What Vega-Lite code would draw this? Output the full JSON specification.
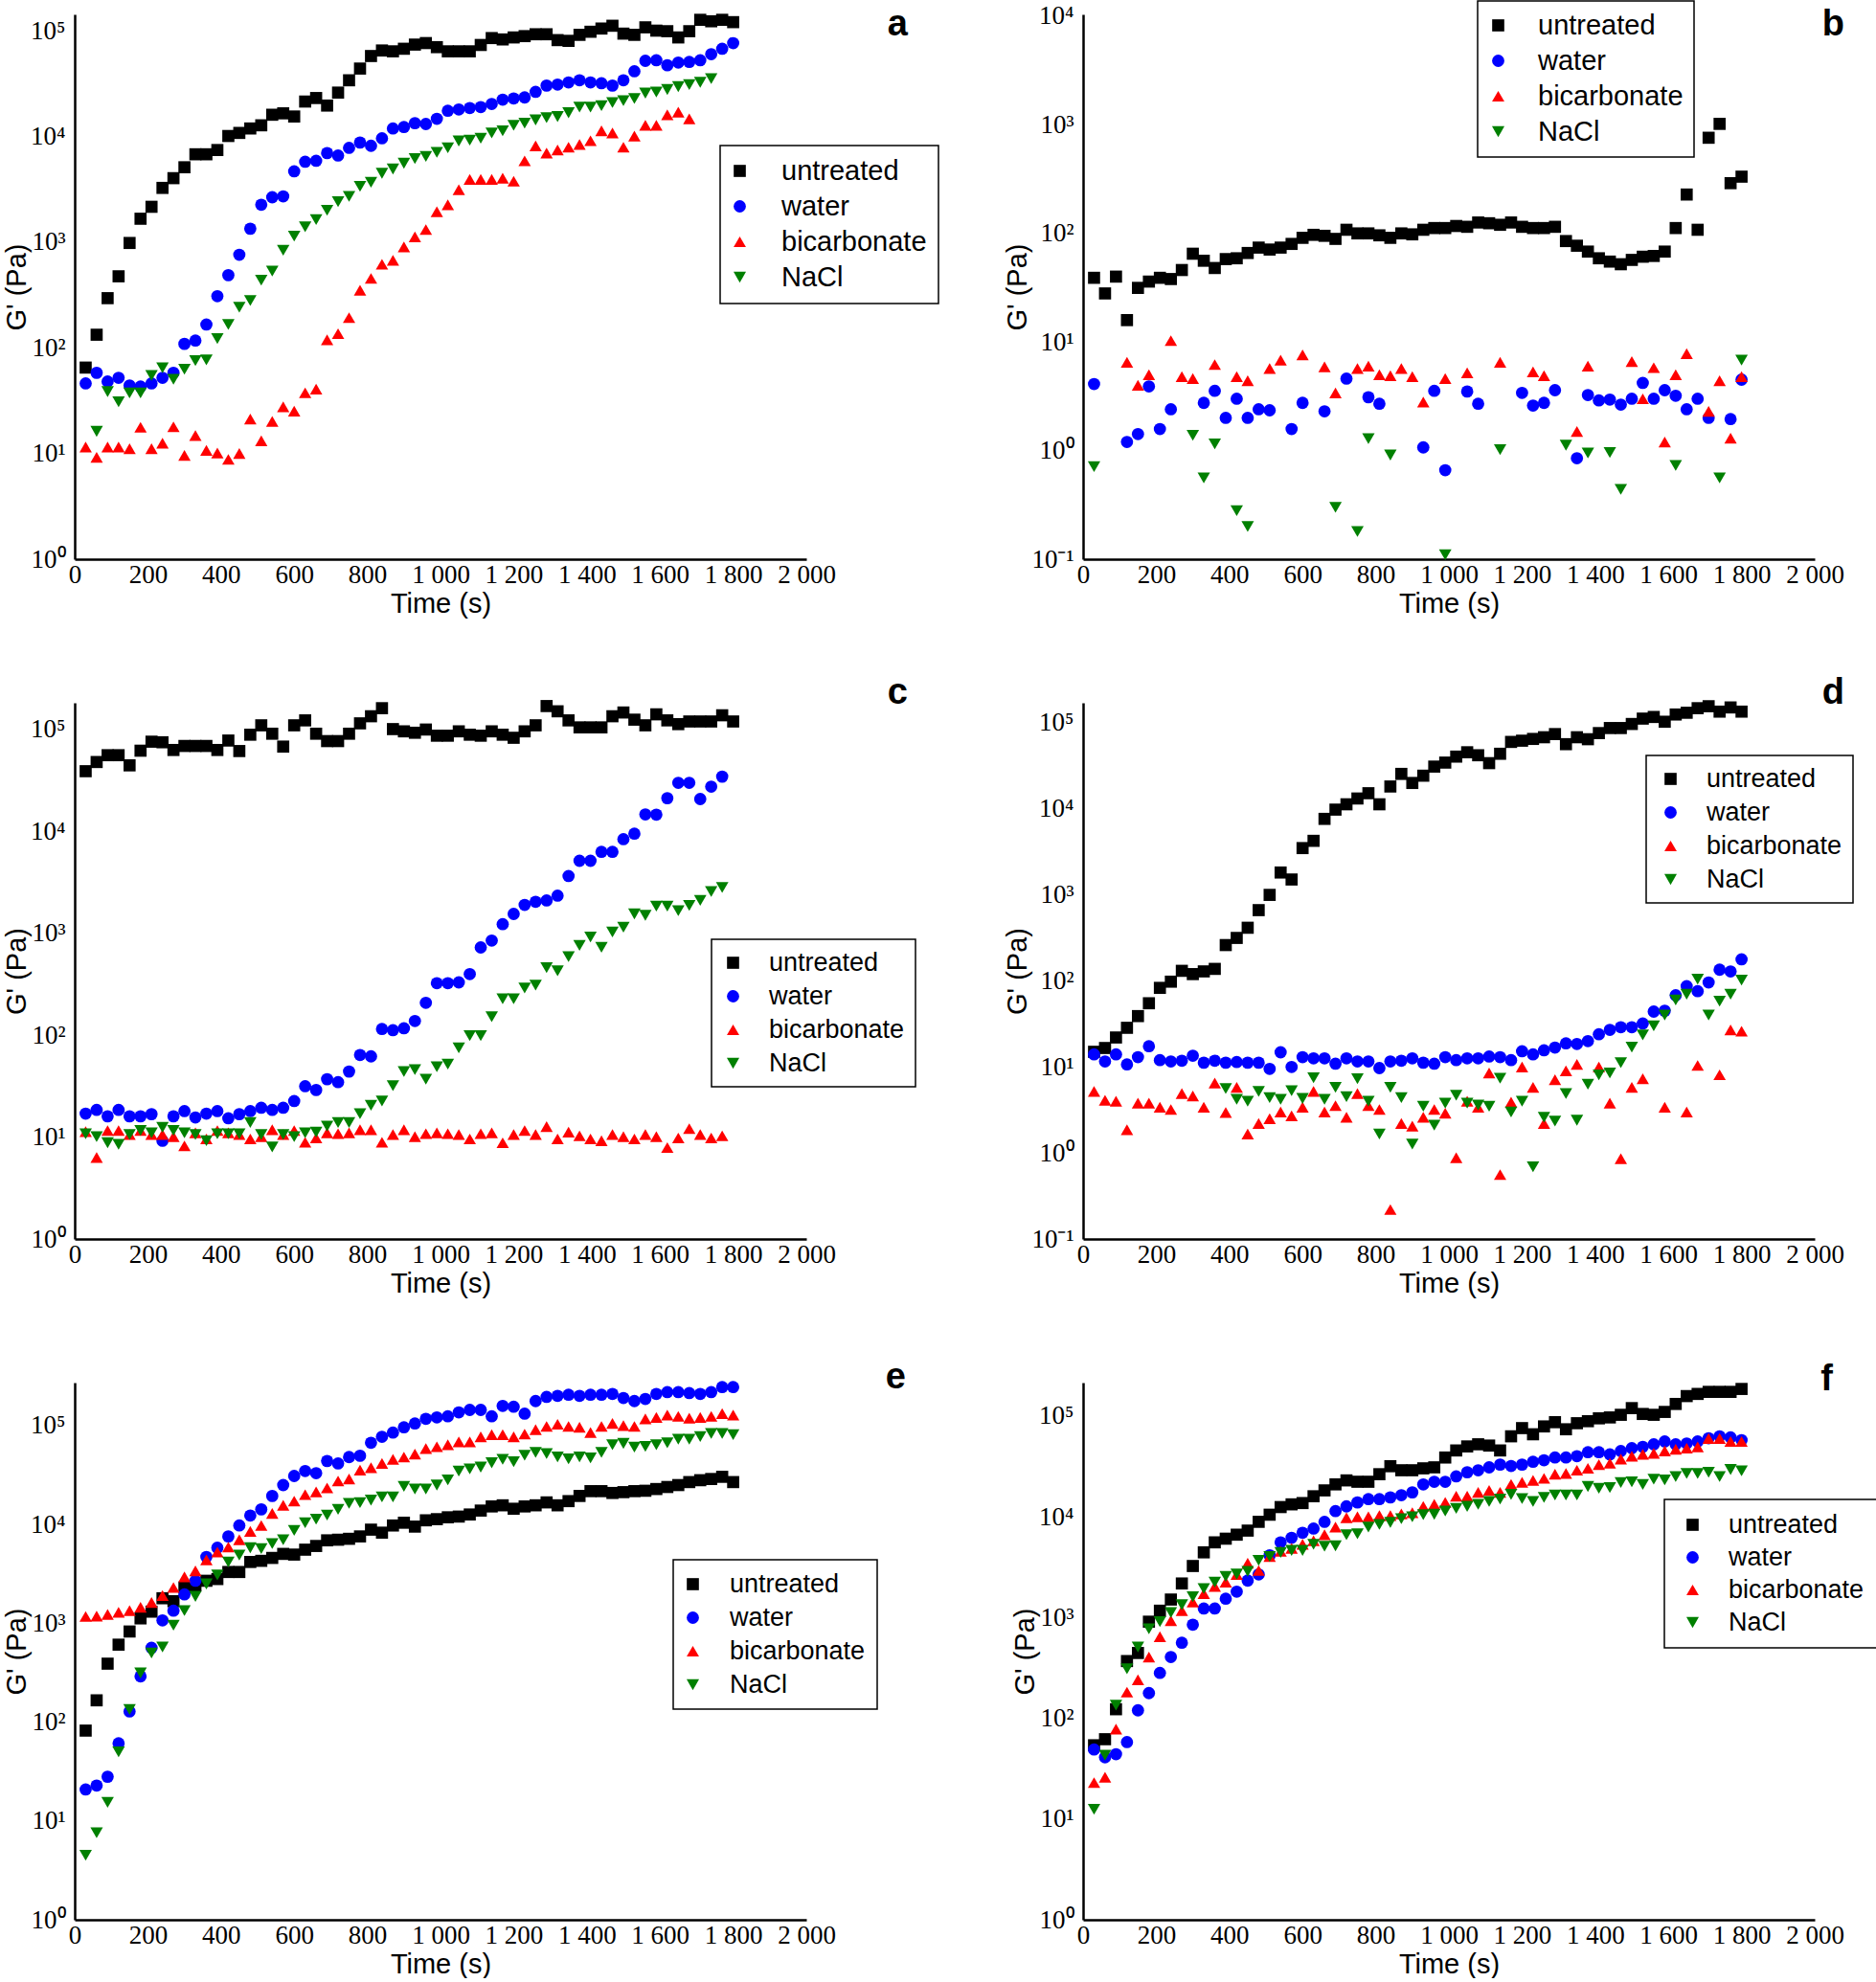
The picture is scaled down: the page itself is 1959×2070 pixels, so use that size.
{
"$schema":"https://vega.github.io/schema/vega-lite/v6.json",
"background":"white",
"padding":{"left":3,"top":0,"right":0,"bottom":0},
"columns":2,
"bounds":"flush",
"align":"each",
"spacing":{"row":150,"column":289},
"resolve":{"scale":{"x":"independent","y":"independent","color":"independent","shape":"independent","size":"independent"},"legend":{"color":"independent","shape":"independent"},"axis":{"x":"independent","y":"independent"}},
"config":{
 "font":"Liberation Sans",
 "view":{"stroke":null},
 "axis":{"domainColor":"#000","domainWidth":2.5,"ticks":false,"grid":false,"labelFont":"Liberation Sans Narrow","labelFontSize":27,"labelColor":"#000","titleFont":"Liberation Sans","titleFontSize":29,"titleFontWeight":"normal","titleColor":"#000","labelOverlap":false,"labelBound":false,"labelFlush":false},
 "axisX":{"labelPadding":3,"titlePadding":3},
 "axisY":{"labelPadding":10,"titlePadding":-1},
 "legend":{"orient":"none","strokeColor":"#000","strokeWidth":1.5,"fillColor":"#fff","labelFont":"Liberation Sans","labelColor":"#000","symbolSize":170,"symbolStrokeWidth":0},
 "title":{"anchor":"end","frame":"group","fontSize":38,"fontWeight":"bold","font":"Liberation Sans","color":"#000","baseline":"alphabetic","offset":0}
},
"concat":[
{"data":{"name":"a"},"width":764,"height":569,"title":{"text":"a","dx":106,"dy":35},
 "mark":{"type":"point","filled":true,"opacity":1,"strokeWidth":0},
 "encoding":{
  "x":{"field":"t","type":"quantitative","title":"Time (s)","scale":{"domain":[0,2000],"nice":false,"zero":false},"axis":{"values":[0,200,400,600,800,1000,1200,1400,1600,1800,2000],"labelExpr":"replace(format(datum.value, ','), ',', ' ')"}},
  "y":{"field":"g","type":"quantitative","title":"G' (Pa)","scale":{"type":"log","domain":[1,143000],"nice":false},"axis":{"values":[1,10,100,1000,10000,100000],"labelExpr":"'10' + (datum.value < 0.5 ? '⁻¹' : ['⁰','¹','²','³','⁴','⁵'][round(log(datum.value)/LN10)])"}},
  "size":{"field":"s","type":"nominal","scale":{"domain":["untreated","water","bicarbonate","NaCl"],"range":[160,170,230,230]},"legend":null},
  "color":{"field":"s","type":"nominal","scale":{"domain":["untreated","water","bicarbonate","NaCl"],"range":["#000000","#0000ff","#ff0000","#008000"]},"legend":{"title":null,"legendX":674,"legendY":137,"labelFontSize":29,"padding":12,"rowPadding":7,"symbolOffset":-6,"labelOffset":29}},
  "shape":{"field":"s","type":"nominal","scale":{"domain":["untreated","water","bicarbonate","NaCl"],"range":["square","circle","triangle-up","triangle-down"]},"legend":{"title":null,"legendX":674,"legendY":137,"labelFontSize":29,"padding":12,"rowPadding":7,"symbolOffset":-6,"labelOffset":29}}
 }},
{"data":{"name":"b"},"width":764,"height":569,"title":{"text":"b","dx":31,"dy":49},
 "mark":{"type":"point","filled":true,"opacity":1,"strokeWidth":0},
 "encoding":{
  "x":{"field":"t","type":"quantitative","title":"Time (s)","scale":{"domain":[0,2000],"nice":false,"zero":false},"axis":{"values":[0,200,400,600,800,1000,1200,1400,1600,1800,2000],"labelExpr":"replace(format(datum.value, ','), ',', ' ')"}},
  "y":{"field":"g","type":"quantitative","title":"G' (Pa)","scale":{"type":"log","domain":[0.1,10400],"nice":false},"axis":{"values":[0.1,1,10,100,1000,10000],"labelExpr":"'10' + (datum.value < 0.5 ? '⁻¹' : ['⁰','¹','²','³','⁴','⁵'][round(log(datum.value)/LN10)])"}},
  "size":{"field":"s","type":"nominal","scale":{"domain":["untreated","water","bicarbonate","NaCl"],"range":[160,170,230,230]},"legend":null},
  "color":{"field":"s","type":"nominal","scale":{"domain":["untreated","water","bicarbonate","NaCl"],"range":["#000000","#0000ff","#ff0000","#008000"]},"legend":{"title":null,"legendX":412,"legendY":-14,"labelFontSize":29,"padding":11,"rowPadding":7,"symbolOffset":-4,"labelOffset":27}},
  "shape":{"field":"s","type":"nominal","scale":{"domain":["untreated","water","bicarbonate","NaCl"],"range":["square","circle","triangle-up","triangle-down"]},"legend":{"title":null,"legendX":412,"legendY":-14,"labelFontSize":29,"padding":11,"rowPadding":7,"symbolOffset":-4,"labelOffset":27}}
 }},
{"data":{"name":"c"},"width":764,"height":560,"title":{"text":"c","dx":106,"dy":16},
 "mark":{"type":"point","filled":true,"opacity":1,"strokeWidth":0},
 "encoding":{
  "x":{"field":"t","type":"quantitative","title":"Time (s)","scale":{"domain":[0,2000],"nice":false,"zero":false},"axis":{"values":[0,200,400,600,800,1000,1200,1400,1600,1800,2000],"labelExpr":"replace(format(datum.value, ','), ',', ' ')"}},
  "y":{"field":"g","type":"quantitative","title":"G' (Pa)","scale":{"type":"log","domain":[1,183000],"nice":false},"axis":{"values":[1,10,100,1000,10000,100000],"labelExpr":"'10' + (datum.value < 0.5 ? '⁻¹' : ['⁰','¹','²','³','⁴','⁵'][round(log(datum.value)/LN10)])"}},
  "size":{"field":"s","type":"nominal","scale":{"domain":["untreated","water","bicarbonate","NaCl"],"range":[160,170,230,230]},"legend":null},
  "color":{"field":"s","type":"nominal","scale":{"domain":["untreated","water","bicarbonate","NaCl"],"range":["#000000","#0000ff","#ff0000","#008000"]},"legend":{"title":null,"legendX":665,"legendY":247,"labelFontSize":27,"padding":11,"rowPadding":7,"symbolOffset":-2,"labelOffset":24}},
  "shape":{"field":"s","type":"nominal","scale":{"domain":["untreated","water","bicarbonate","NaCl"],"range":["square","circle","triangle-up","triangle-down"]},"legend":{"title":null,"legendX":665,"legendY":247,"labelFontSize":27,"padding":11,"rowPadding":7,"symbolOffset":-2,"labelOffset":24}}
 }},
{"data":{"name":"d"},"width":764,"height":560,"title":{"text":"d","dx":31,"dy":16},
 "mark":{"type":"point","filled":true,"opacity":1,"strokeWidth":0},
 "encoding":{
  "x":{"field":"t","type":"quantitative","title":"Time (s)","scale":{"domain":[0,2000],"nice":false,"zero":false},"axis":{"values":[0,200,400,600,800,1000,1200,1400,1600,1800,2000],"labelExpr":"replace(format(datum.value, ','), ',', ' ')"}},
  "y":{"field":"g","type":"quantitative","title":"G' (Pa)","scale":{"type":"log","domain":[0.1,171000],"nice":false},"axis":{"values":[0.1,1,10,100,1000,10000,100000],"labelExpr":"'10' + (datum.value < 0.5 ? '⁻¹' : ['⁰','¹','²','³','⁴','⁵'][round(log(datum.value)/LN10)])"}},
  "size":{"field":"s","type":"nominal","scale":{"domain":["untreated","water","bicarbonate","NaCl"],"range":[160,170,230,230]},"legend":null},
  "color":{"field":"s","type":"nominal","scale":{"domain":["untreated","water","bicarbonate","NaCl"],"range":["#000000","#0000ff","#ff0000","#008000"]},"legend":{"title":null,"legendX":588,"legendY":55,"labelFontSize":27,"padding":11,"rowPadding":7,"symbolOffset":1,"labelOffset":24}},
  "shape":{"field":"s","type":"nominal","scale":{"domain":["untreated","water","bicarbonate","NaCl"],"range":["square","circle","triangle-up","triangle-down"]},"legend":{"title":null,"legendX":588,"legendY":55,"labelFontSize":27,"padding":11,"rowPadding":7,"symbolOffset":1,"labelOffset":24}}
 }},
{"data":{"name":"e"},"width":764,"height":561,"title":{"text":"e","dx":104,"dy":20},
 "mark":{"type":"point","filled":true,"opacity":1,"strokeWidth":0},
 "encoding":{
  "x":{"field":"t","type":"quantitative","title":"Time (s)","scale":{"domain":[0,2000],"nice":false,"zero":false},"axis":{"values":[0,200,400,600,800,1000,1200,1400,1600,1800,2000],"labelExpr":"replace(format(datum.value, ','), ',', ' ')"}},
  "y":{"field":"g","type":"quantitative","title":"G' (Pa)","scale":{"type":"log","domain":[1,272000],"nice":false},"axis":{"values":[1,10,100,1000,10000,100000],"labelExpr":"'10' + (datum.value < 0.5 ? '⁻¹' : ['⁰','¹','²','³','⁴','⁵'][round(log(datum.value)/LN10)])"}},
  "size":{"field":"s","type":"nominal","scale":{"domain":["untreated","water","bicarbonate","NaCl"],"range":[160,170,230,230]},"legend":null},
  "color":{"field":"s","type":"nominal","scale":{"domain":["untreated","water","bicarbonate","NaCl"],"range":["#000000","#0000ff","#ff0000","#008000"]},"legend":{"title":null,"legendX":625,"legendY":185,"labelFontSize":27,"padding":12,"rowPadding":7,"symbolOffset":-5,"labelOffset":25}},
  "shape":{"field":"s","type":"nominal","scale":{"domain":["untreated","water","bicarbonate","NaCl"],"range":["square","circle","triangle-up","triangle-down"]},"legend":{"title":null,"legendX":625,"legendY":185,"labelFontSize":27,"padding":12,"rowPadding":7,"symbolOffset":-5,"labelOffset":25}}
 }},
{"data":{"name":"f"},"width":764,"height":561,"title":{"text":"f","dx":19,"dy":20},
 "mark":{"type":"point","filled":true,"opacity":1,"strokeWidth":0},
 "encoding":{
  "x":{"field":"t","type":"quantitative","title":"Time (s)","scale":{"domain":[0,2000],"nice":false,"zero":false},"axis":{"values":[0,200,400,600,800,1000,1200,1400,1600,1800,2000],"labelExpr":"replace(format(datum.value, ','), ',', ' ')"}},
  "y":{"field":"g","type":"quantitative","title":"G' (Pa)","scale":{"type":"log","domain":[1,215000],"nice":false},"axis":{"values":[1,10,100,1000,10000,100000],"labelExpr":"'10' + (datum.value < 0.5 ? '⁻¹' : ['⁰','¹','²','³','⁴','⁵'][round(log(datum.value)/LN10)])"}},
  "size":{"field":"s","type":"nominal","scale":{"domain":["untreated","water","bicarbonate","NaCl"],"range":[160,170,230,230]},"legend":null},
  "color":{"field":"s","type":"nominal","scale":{"domain":["untreated","water","bicarbonate","NaCl"],"range":["#000000","#0000ff","#ff0000","#008000"]},"legend":{"title":null,"legendX":607,"legendY":122,"labelFontSize":27,"padding":13,"rowPadding":6,"symbolOffset":3,"labelOffset":24}},
  "shape":{"field":"s","type":"nominal","scale":{"domain":["untreated","water","bicarbonate","NaCl"],"range":["square","circle","triangle-up","triangle-down"]},"legend":{"title":null,"legendX":607,"legendY":122,"labelFontSize":27,"padding":13,"rowPadding":6,"symbolOffset":3,"labelOffset":24}}
 }}
],
"datasets":{
"a":[
{"s":"untreated","t":30,"g":65},{"s":"untreated","t":60,"g":133},{"s":"untreated","t":90,"g":295},{"s":"untreated","t":120,"g":475},{"s":"untreated","t":150,"g":982},{"s":"untreated","t":180,"g":1665},{"s":"untreated","t":210,"g":2160},{"s":"untreated","t":240,"g":3260},{"s":"untreated","t":270,"g":4030},{"s":"untreated","t":300,"g":5110},{"s":"untreated","t":330,"g":6780},{"s":"untreated","t":360,"g":6780},{"s":"untreated","t":390,"g":7440},{"s":"untreated","t":420,"g":10100},{"s":"untreated","t":450,"g":10800},{"s":"untreated","t":480,"g":11900},{"s":"untreated","t":510,"g":12750},{"s":"untreated","t":540,"g":16050},{"s":"untreated","t":570,"g":16550},{"s":"untreated","t":600,"g":15450},{"s":"untreated","t":630,"g":21400},{"s":"untreated","t":660,"g":23100},{"s":"untreated","t":690,"g":19600},{"s":"untreated","t":720,"g":26000},{"s":"untreated","t":750,"g":34000},{"s":"untreated","t":780,"g":43900},{"s":"untreated","t":810,"g":57700},{"s":"untreated","t":840,"g":65100},{"s":"untreated","t":870,"g":63900},{"s":"untreated","t":900,"g":67600},{"s":"untreated","t":930,"g":74000},{"s":"untreated","t":960,"g":76500},{"s":"untreated","t":990,"g":70000},{"s":"untreated","t":1020,"g":63900},{"s":"untreated","t":1050,"g":63900},{"s":"untreated","t":1080,"g":63900},{"s":"untreated","t":1110,"g":73400},{"s":"untreated","t":1140,"g":85300},{"s":"untreated","t":1170,"g":82800},{"s":"untreated","t":1200,"g":86500},{"s":"untreated","t":1230,"g":89000},{"s":"untreated","t":1260,"g":92700},{"s":"untreated","t":1290,"g":92700},{"s":"untreated","t":1320,"g":81600},{"s":"untreated","t":1350,"g":80300},{"s":"untreated","t":1380,"g":91500},{"s":"untreated","t":1410,"g":97900},{"s":"untreated","t":1440,"g":105000},{"s":"untreated","t":1470,"g":111600},{"s":"untreated","t":1500,"g":94000},{"s":"untreated","t":1530,"g":91500},{"s":"untreated","t":1560,"g":107800},{"s":"untreated","t":1590,"g":100300},{"s":"untreated","t":1620,"g":99100},{"s":"untreated","t":1650,"g":86500},{"s":"untreated","t":1680,"g":99100},{"s":"untreated","t":1710,"g":127000},{"s":"untreated","t":1740,"g":123000},{"s":"untreated","t":1770,"g":127000},{"s":"untreated","t":1800,"g":120700},
{"s":"water","t":30,"g":46},{"s":"water","t":60,"g":58},{"s":"water","t":90,"g":48},{"s":"water","t":120,"g":52},{"s":"water","t":150,"g":44},{"s":"water","t":180,"g":43},{"s":"water","t":210,"g":46},{"s":"water","t":240,"g":52},{"s":"water","t":270,"g":58},{"s":"water","t":300,"g":109},{"s":"water","t":330,"g":117},{"s":"water","t":360,"g":166},{"s":"water","t":390,"g":308},{"s":"water","t":420,"g":487},{"s":"water","t":450,"g":760},{"s":"water","t":480,"g":1340},{"s":"water","t":510,"g":2260},{"s":"water","t":540,"g":2660},{"s":"water","t":570,"g":2710},{"s":"water","t":600,"g":4680},{"s":"water","t":630,"g":5760},{"s":"water","t":660,"g":5880},{"s":"water","t":690,"g":6960},{"s":"water","t":720,"g":6600},{"s":"water","t":750,"g":7800},{"s":"water","t":780,"g":8760},{"s":"water","t":810,"g":8160},{"s":"water","t":840,"g":9610},{"s":"water","t":870,"g":11900},{"s":"water","t":900,"g":12270},{"s":"water","t":930,"g":13360},{"s":"water","t":960,"g":13120},{"s":"water","t":990,"g":14700},{"s":"water","t":1020,"g":17500},{"s":"water","t":1050,"g":18000},{"s":"water","t":1080,"g":18600},{"s":"water","t":1110,"g":18960},{"s":"water","t":1140,"g":20300},{"s":"water","t":1170,"g":22300},{"s":"water","t":1200,"g":22900},{"s":"water","t":1230,"g":23400},{"s":"water","t":1260,"g":26400},{"s":"water","t":1290,"g":30300},{"s":"water","t":1320,"g":31000},{"s":"water","t":1350,"g":32500},{"s":"water","t":1380,"g":34000},{"s":"water","t":1410,"g":32500},{"s":"water","t":1440,"g":31900},{"s":"water","t":1470,"g":30300},{"s":"water","t":1500,"g":34000},{"s":"water","t":1530,"g":41400},{"s":"water","t":1560,"g":52000},{"s":"water","t":1590,"g":52600},{"s":"water","t":1620,"g":47200},{"s":"water","t":1650,"g":50100},{"s":"water","t":1680,"g":50700},{"s":"water","t":1710,"g":52600},{"s":"water","t":1740,"g":60100},{"s":"water","t":1770,"g":67600},{"s":"water","t":1800,"g":76400},
{"s":"bicarbonate","t":30,"g":11.5},{"s":"bicarbonate","t":60,"g":9.2},{"s":"bicarbonate","t":90,"g":11.5},{"s":"bicarbonate","t":120,"g":11.5},{"s":"bicarbonate","t":150,"g":11.1},{"s":"bicarbonate","t":180,"g":17.7},{"s":"bicarbonate","t":210,"g":11.1},{"s":"bicarbonate","t":240,"g":12.5},{"s":"bicarbonate","t":270,"g":17.9},{"s":"bicarbonate","t":300,"g":9.6},{"s":"bicarbonate","t":330,"g":14.8},{"s":"bicarbonate","t":360,"g":10.7},{"s":"bicarbonate","t":390,"g":10.1},{"s":"bicarbonate","t":420,"g":8.8},{"s":"bicarbonate","t":450,"g":10},{"s":"bicarbonate","t":480,"g":21.2},{"s":"bicarbonate","t":510,"g":13.2},{"s":"bicarbonate","t":540,"g":20.1},{"s":"bicarbonate","t":570,"g":27.7},{"s":"bicarbonate","t":600,"g":25.2},{"s":"bicarbonate","t":630,"g":37.5},{"s":"bicarbonate","t":660,"g":40.7},{"s":"bicarbonate","t":690,"g":119},{"s":"bicarbonate","t":720,"g":136},{"s":"bicarbonate","t":750,"g":193},{"s":"bicarbonate","t":780,"g":350},{"s":"bicarbonate","t":810,"g":454},{"s":"bicarbonate","t":840,"g":617},{"s":"bicarbonate","t":870,"g":673},{"s":"bicarbonate","t":900,"g":902},{"s":"bicarbonate","t":930,"g":1120},{"s":"bicarbonate","t":960,"g":1315},{"s":"bicarbonate","t":990,"g":1940},{"s":"bicarbonate","t":1020,"g":2260},{"s":"bicarbonate","t":1050,"g":3130},{"s":"bicarbonate","t":1080,"g":3920},{"s":"bicarbonate","t":1110,"g":3920},{"s":"bicarbonate","t":1140,"g":3920},{"s":"bicarbonate","t":1170,"g":4020},{"s":"bicarbonate","t":1200,"g":3770},{"s":"bicarbonate","t":1230,"g":5880},{"s":"bicarbonate","t":1260,"g":8150},{"s":"bicarbonate","t":1290,"g":6960},{"s":"bicarbonate","t":1320,"g":7440},{"s":"bicarbonate","t":1350,"g":7910},{"s":"bicarbonate","t":1380,"g":8390},{"s":"bicarbonate","t":1410,"g":9110},{"s":"bicarbonate","t":1440,"g":11300},{"s":"bicarbonate","t":1470,"g":10800},{"s":"bicarbonate","t":1500,"g":7910},{"s":"bicarbonate","t":1530,"g":10100},{"s":"bicarbonate","t":1560,"g":12750},{"s":"bicarbonate","t":1590,"g":12750},{"s":"bicarbonate","t":1620,"g":16050},{"s":"bicarbonate","t":1650,"g":17000},{"s":"bicarbonate","t":1680,"g":14700},
{"s":"NaCl","t":60,"g":16.2},{"s":"NaCl","t":90,"g":38.5},{"s":"NaCl","t":120,"g":30.9},{"s":"NaCl","t":150,"g":37.4},{"s":"NaCl","t":180,"g":37.4},{"s":"NaCl","t":210,"g":54.8},{"s":"NaCl","t":240,"g":64.8},{"s":"NaCl","t":270,"g":50.4},{"s":"NaCl","t":300,"g":62.6},{"s":"NaCl","t":330,"g":75.8},{"s":"NaCl","t":360,"g":76.9},{"s":"NaCl","t":390,"g":122},{"s":"NaCl","t":420,"g":166},{"s":"NaCl","t":450,"g":242},{"s":"NaCl","t":480,"g":280},{"s":"NaCl","t":510,"g":436},{"s":"NaCl","t":540,"g":533},{"s":"NaCl","t":570,"g":838},{"s":"NaCl","t":600,"g":1140},{"s":"NaCl","t":630,"g":1395},{"s":"NaCl","t":660,"g":1630},{"s":"NaCl","t":690,"g":2000},{"s":"NaCl","t":720,"g":2420},{"s":"NaCl","t":750,"g":2710},{"s":"NaCl","t":780,"g":3370},{"s":"NaCl","t":810,"g":3690},{"s":"NaCl","t":840,"g":4480},{"s":"NaCl","t":870,"g":4920},{"s":"NaCl","t":900,"g":5580},{"s":"NaCl","t":930,"g":6180},{"s":"NaCl","t":960,"g":6480},{"s":"NaCl","t":990,"g":7080},{"s":"NaCl","t":1020,"g":7800},{"s":"NaCl","t":1050,"g":9060},{"s":"NaCl","t":1080,"g":9240},{"s":"NaCl","t":1110,"g":9610},{"s":"NaCl","t":1140,"g":10800},{"s":"NaCl","t":1170,"g":11300},{"s":"NaCl","t":1200,"g":12750},{"s":"NaCl","t":1230,"g":13360},{"s":"NaCl","t":1260,"g":14330},{"s":"NaCl","t":1290,"g":15050},{"s":"NaCl","t":1320,"g":15420},{"s":"NaCl","t":1350,"g":16760},{"s":"NaCl","t":1380,"g":18960},{"s":"NaCl","t":1410,"g":18960},{"s":"NaCl","t":1440,"g":19570},{"s":"NaCl","t":1470,"g":20900},{"s":"NaCl","t":1500,"g":21780},{"s":"NaCl","t":1530,"g":22880},{"s":"NaCl","t":1560,"g":25700},{"s":"NaCl","t":1590,"g":26300},{"s":"NaCl","t":1620,"g":27800},{"s":"NaCl","t":1650,"g":29600},{"s":"NaCl","t":1680,"g":30900},{"s":"NaCl","t":1710,"g":32500},{"s":"NaCl","t":1740,"g":35200}
],
"b":[
{"s":"untreated","t":30,"g":39},{"s":"untreated","t":60,"g":28},{"s":"untreated","t":90,"g":40},{"s":"untreated","t":120,"g":15.9},{"s":"untreated","t":150,"g":31.5},{"s":"untreated","t":180,"g":36},{"s":"untreated","t":210,"g":39},{"s":"untreated","t":240,"g":38},{"s":"untreated","t":270,"g":46},{"s":"untreated","t":300,"g":65},{"s":"untreated","t":330,"g":56},{"s":"untreated","t":360,"g":48},{"s":"untreated","t":390,"g":58},{"s":"untreated","t":420,"g":59},{"s":"untreated","t":450,"g":66},{"s":"untreated","t":480,"g":74},{"s":"untreated","t":510,"g":71},{"s":"untreated","t":540,"g":74},{"s":"untreated","t":570,"g":80},{"s":"untreated","t":600,"g":91},{"s":"untreated","t":630,"g":97},{"s":"untreated","t":660,"g":95},{"s":"untreated","t":690,"g":89},{"s":"untreated","t":720,"g":108},{"s":"untreated","t":750,"g":100},{"s":"untreated","t":780,"g":100},{"s":"untreated","t":810,"g":96},{"s":"untreated","t":840,"g":91},{"s":"untreated","t":870,"g":100},{"s":"untreated","t":900,"g":98},{"s":"untreated","t":930,"g":108},{"s":"untreated","t":960,"g":112},{"s":"untreated","t":990,"g":112},{"s":"untreated","t":1020,"g":117},{"s":"untreated","t":1050,"g":115},{"s":"untreated","t":1080,"g":126},{"s":"untreated","t":1110,"g":124},{"s":"untreated","t":1140,"g":120},{"s":"untreated","t":1170,"g":126},{"s":"untreated","t":1200,"g":115},{"s":"untreated","t":1230,"g":112},{"s":"untreated","t":1260,"g":112},{"s":"untreated","t":1290,"g":115},{"s":"untreated","t":1320,"g":85},{"s":"untreated","t":1350,"g":77},{"s":"untreated","t":1380,"g":68},{"s":"untreated","t":1410,"g":59},{"s":"untreated","t":1440,"g":55},{"s":"untreated","t":1470,"g":52},{"s":"untreated","t":1500,"g":57},{"s":"untreated","t":1530,"g":61},{"s":"untreated","t":1560,"g":62},{"s":"untreated","t":1590,"g":68},{"s":"untreated","t":1620,"g":112},{"s":"untreated","t":1650,"g":228},{"s":"untreated","t":1680,"g":108},{"s":"untreated","t":1710,"g":760},{"s":"untreated","t":1740,"g":1020},{"s":"untreated","t":1770,"g":290},{"s":"untreated","t":1800,"g":333},
{"s":"water","t":30,"g":4.1},{"s":"water","t":120,"g":1.2},{"s":"water","t":150,"g":1.42},{"s":"water","t":180,"g":3.9},{"s":"water","t":210,"g":1.58},{"s":"water","t":240,"g":2.4},{"s":"water","t":330,"g":2.75},{"s":"water","t":360,"g":3.55},{"s":"water","t":390,"g":2.0},{"s":"water","t":420,"g":3.0},{"s":"water","t":450,"g":2.0},{"s":"water","t":480,"g":2.4},{"s":"water","t":510,"g":2.35},{"s":"water","t":570,"g":1.58},{"s":"water","t":600,"g":2.75},{"s":"water","t":660,"g":2.3},{"s":"water","t":720,"g":4.6},{"s":"water","t":780,"g":3.1},{"s":"water","t":810,"g":2.7},{"s":"water","t":930,"g":1.07},{"s":"water","t":960,"g":3.55},{"s":"water","t":990,"g":0.66},{"s":"water","t":1050,"g":3.5},{"s":"water","t":1080,"g":2.7},{"s":"water","t":1200,"g":3.4},{"s":"water","t":1230,"g":2.6},{"s":"water","t":1260,"g":2.75},{"s":"water","t":1290,"g":3.6},{"s":"water","t":1350,"g":0.85},{"s":"water","t":1380,"g":3.25},{"s":"water","t":1410,"g":2.9},{"s":"water","t":1440,"g":2.95},{"s":"water","t":1470,"g":2.65},{"s":"water","t":1500,"g":3.0},{"s":"water","t":1530,"g":4.2},{"s":"water","t":1560,"g":3.0},{"s":"water","t":1590,"g":3.6},{"s":"water","t":1620,"g":3.2},{"s":"water","t":1650,"g":2.4},{"s":"water","t":1680,"g":3.0},{"s":"water","t":1710,"g":2.0},{"s":"water","t":1770,"g":1.95},{"s":"water","t":1800,"g":4.5},
{"s":"bicarbonate","t":120,"g":6.5},{"s":"bicarbonate","t":150,"g":4.0},{"s":"bicarbonate","t":180,"g":5.0},{"s":"bicarbonate","t":240,"g":10.3},{"s":"bicarbonate","t":270,"g":4.8},{"s":"bicarbonate","t":300,"g":4.6},{"s":"bicarbonate","t":360,"g":6.2},{"s":"bicarbonate","t":420,"g":4.8},{"s":"bicarbonate","t":450,"g":4.4},{"s":"bicarbonate","t":510,"g":5.7},{"s":"bicarbonate","t":540,"g":6.8},{"s":"bicarbonate","t":600,"g":7.6},{"s":"bicarbonate","t":660,"g":5.9},{"s":"bicarbonate","t":690,"g":3.4},{"s":"bicarbonate","t":750,"g":5.7},{"s":"bicarbonate","t":780,"g":6.0},{"s":"bicarbonate","t":810,"g":5.0},{"s":"bicarbonate","t":840,"g":4.9},{"s":"bicarbonate","t":870,"g":5.7},{"s":"bicarbonate","t":900,"g":4.8},{"s":"bicarbonate","t":930,"g":2.8},{"s":"bicarbonate","t":990,"g":4.6},{"s":"bicarbonate","t":1050,"g":5.2},{"s":"bicarbonate","t":1140,"g":6.5},{"s":"bicarbonate","t":1230,"g":5.3},{"s":"bicarbonate","t":1260,"g":4.9},{"s":"bicarbonate","t":1350,"g":1.5},{"s":"bicarbonate","t":1380,"g":6.0},{"s":"bicarbonate","t":1500,"g":6.6},{"s":"bicarbonate","t":1530,"g":3.0},{"s":"bicarbonate","t":1560,"g":5.8},{"s":"bicarbonate","t":1590,"g":1.2},{"s":"bicarbonate","t":1620,"g":5.0},{"s":"bicarbonate","t":1650,"g":7.8},{"s":"bicarbonate","t":1710,"g":2.3},{"s":"bicarbonate","t":1740,"g":4.4},{"s":"bicarbonate","t":1770,"g":1.3},{"s":"bicarbonate","t":1800,"g":4.8},
{"s":"NaCl","t":30,"g":0.71},{"s":"NaCl","t":300,"g":1.38},{"s":"NaCl","t":330,"g":0.56},{"s":"NaCl","t":360,"g":1.15},{"s":"NaCl","t":420,"g":0.28},{"s":"NaCl","t":450,"g":0.2},{"s":"NaCl","t":690,"g":0.3},{"s":"NaCl","t":750,"g":0.18},{"s":"NaCl","t":780,"g":1.29},{"s":"NaCl","t":840,"g":0.91},{"s":"NaCl","t":990,"g":0.11},{"s":"NaCl","t":1140,"g":1.02},{"s":"NaCl","t":1320,"g":1.12},{"s":"NaCl","t":1380,"g":0.95},{"s":"NaCl","t":1440,"g":0.96},{"s":"NaCl","t":1470,"g":0.44},{"s":"NaCl","t":1620,"g":0.73},{"s":"NaCl","t":1740,"g":0.56},{"s":"NaCl","t":1800,"g":6.8}
],
"c":[
{"s":"untreated","t":30,"g":39000},{"s":"untreated","t":60,"g":48000},{"s":"untreated","t":90,"g":56000},{"s":"untreated","t":120,"g":56000},{"s":"untreated","t":150,"g":44500},{"s":"untreated","t":180,"g":62000},{"s":"untreated","t":210,"g":76000},{"s":"untreated","t":240,"g":75000},{"s":"untreated","t":270,"g":63000},{"s":"untreated","t":300,"g":69000},{"s":"untreated","t":330,"g":69000},{"s":"untreated","t":360,"g":69000},{"s":"untreated","t":390,"g":63000},{"s":"untreated","t":420,"g":78000},{"s":"untreated","t":450,"g":61500},{"s":"untreated","t":480,"g":89000},{"s":"untreated","t":510,"g":110000},{"s":"untreated","t":540,"g":91000},{"s":"untreated","t":570,"g":68000},{"s":"untreated","t":600,"g":110000},{"s":"untreated","t":630,"g":123000},{"s":"untreated","t":660,"g":91000},{"s":"untreated","t":690,"g":77000},{"s":"untreated","t":720,"g":77000},{"s":"untreated","t":750,"g":91000},{"s":"untreated","t":780,"g":115000},{"s":"untreated","t":810,"g":135000},{"s":"untreated","t":840,"g":162000},{"s":"untreated","t":870,"g":101000},{"s":"untreated","t":900,"g":96000},{"s":"untreated","t":930,"g":93000},{"s":"untreated","t":960,"g":100000},{"s":"untreated","t":990,"g":87000},{"s":"untreated","t":1020,"g":87000},{"s":"untreated","t":1050,"g":96000},{"s":"untreated","t":1080,"g":89000},{"s":"untreated","t":1110,"g":87000},{"s":"untreated","t":1140,"g":96000},{"s":"untreated","t":1170,"g":89000},{"s":"untreated","t":1200,"g":83000},{"s":"untreated","t":1230,"g":96000},{"s":"untreated","t":1260,"g":110000},{"s":"untreated","t":1290,"g":170000},{"s":"untreated","t":1320,"g":151000},{"s":"untreated","t":1350,"g":123000},{"s":"untreated","t":1380,"g":105000},{"s":"untreated","t":1410,"g":105000},{"s":"untreated","t":1440,"g":105000},{"s":"untreated","t":1470,"g":135000},{"s":"untreated","t":1500,"g":147000},{"s":"untreated","t":1530,"g":125000},{"s":"untreated","t":1560,"g":110000},{"s":"untreated","t":1590,"g":141000},{"s":"untreated","t":1620,"g":123000},{"s":"untreated","t":1650,"g":113000},{"s":"untreated","t":1680,"g":120000},{"s":"untreated","t":1710,"g":120000},{"s":"untreated","t":1740,"g":120000},{"s":"untreated","t":1770,"g":138000},{"s":"untreated","t":1800,"g":120000},
{"s":"water","t":30,"g":17},{"s":"water","t":60,"g":18.5},{"s":"water","t":90,"g":16},{"s":"water","t":120,"g":18.5},{"s":"water","t":150,"g":16},{"s":"water","t":180,"g":16},{"s":"water","t":210,"g":16.8},{"s":"water","t":240,"g":9.2},{"s":"water","t":270,"g":16},{"s":"water","t":300,"g":18},{"s":"water","t":330,"g":15.6},{"s":"water","t":360,"g":17},{"s":"water","t":390,"g":18},{"s":"water","t":420,"g":15.3},{"s":"water","t":450,"g":16.8},{"s":"water","t":480,"g":18},{"s":"water","t":510,"g":19.4},{"s":"water","t":540,"g":18.5},{"s":"water","t":570,"g":19.4},{"s":"water","t":600,"g":22.6},{"s":"water","t":630,"g":31.6},{"s":"water","t":660,"g":29},{"s":"water","t":690,"g":37},{"s":"water","t":720,"g":34.6},{"s":"water","t":750,"g":44},{"s":"water","t":780,"g":64},{"s":"water","t":810,"g":62},{"s":"water","t":840,"g":115},{"s":"water","t":870,"g":112},{"s":"water","t":900,"g":117},{"s":"water","t":930,"g":138},{"s":"water","t":960,"g":208},{"s":"water","t":990,"g":324},{"s":"water","t":1020,"g":324},{"s":"water","t":1050,"g":330},{"s":"water","t":1080,"g":398},{"s":"water","t":1110,"g":727},{"s":"water","t":1140,"g":850},{"s":"water","t":1170,"g":1230},{"s":"water","t":1200,"g":1550},{"s":"water","t":1230,"g":1900},{"s":"water","t":1260,"g":2040},{"s":"water","t":1290,"g":2100},{"s":"water","t":1320,"g":2340},{"s":"water","t":1350,"g":3650},{"s":"water","t":1380,"g":5150},{"s":"water","t":1410,"g":5150},{"s":"water","t":1440,"g":6300},{"s":"water","t":1470,"g":6300},{"s":"water","t":1500,"g":8400},{"s":"water","t":1530,"g":9500},{"s":"water","t":1560,"g":14700},{"s":"water","t":1590,"g":14600},{"s":"water","t":1620,"g":21200},{"s":"water","t":1650,"g":30000},{"s":"water","t":1680,"g":30000},{"s":"water","t":1710,"g":20800},{"s":"water","t":1740,"g":27500},{"s":"water","t":1770,"g":34500},
{"s":"bicarbonate","t":30,"g":11.3},{"s":"bicarbonate","t":60,"g":6.3},{"s":"bicarbonate","t":90,"g":11.6},{"s":"bicarbonate","t":120,"g":11.6},{"s":"bicarbonate","t":150,"g":10.6},{"s":"bicarbonate","t":180,"g":11.6},{"s":"bicarbonate","t":210,"g":10.6},{"s":"bicarbonate","t":240,"g":10.6},{"s":"bicarbonate","t":270,"g":10.1},{"s":"bicarbonate","t":300,"g":8.2},{"s":"bicarbonate","t":330,"g":11},{"s":"bicarbonate","t":360,"g":9.6},{"s":"bicarbonate","t":390,"g":11.6},{"s":"bicarbonate","t":420,"g":11},{"s":"bicarbonate","t":450,"g":10.6},{"s":"bicarbonate","t":480,"g":9.6},{"s":"bicarbonate","t":510,"g":10.1},{"s":"bicarbonate","t":540,"g":11.8},{"s":"bicarbonate","t":570,"g":10.6},{"s":"bicarbonate","t":600,"g":11.6},{"s":"bicarbonate","t":630,"g":8.9},{"s":"bicarbonate","t":660,"g":9.8},{"s":"bicarbonate","t":690,"g":11},{"s":"bicarbonate","t":720,"g":10.8},{"s":"bicarbonate","t":750,"g":11},{"s":"bicarbonate","t":780,"g":11.8},{"s":"bicarbonate","t":810,"g":11.8},{"s":"bicarbonate","t":840,"g":8.9},{"s":"bicarbonate","t":870,"g":10.6},{"s":"bicarbonate","t":900,"g":11.8},{"s":"bicarbonate","t":930,"g":10.1},{"s":"bicarbonate","t":960,"g":10.8},{"s":"bicarbonate","t":990,"g":11},{"s":"bicarbonate","t":1020,"g":10.8},{"s":"bicarbonate","t":1050,"g":10.6},{"s":"bicarbonate","t":1080,"g":9.6},{"s":"bicarbonate","t":1110,"g":10.8},{"s":"bicarbonate","t":1140,"g":11},{"s":"bicarbonate","t":1170,"g":8.8},{"s":"bicarbonate","t":1200,"g":10.6},{"s":"bicarbonate","t":1230,"g":11.6},{"s":"bicarbonate","t":1260,"g":10.6},{"s":"bicarbonate","t":1290,"g":12.7},{"s":"bicarbonate","t":1320,"g":9.6},{"s":"bicarbonate","t":1350,"g":11.2},{"s":"bicarbonate","t":1380,"g":10.3},{"s":"bicarbonate","t":1410,"g":9.6},{"s":"bicarbonate","t":1440,"g":9.2},{"s":"bicarbonate","t":1470,"g":10.6},{"s":"bicarbonate","t":1500,"g":10.1},{"s":"bicarbonate","t":1530,"g":9.6},{"s":"bicarbonate","t":1560,"g":10.6},{"s":"bicarbonate","t":1590,"g":10.1},{"s":"bicarbonate","t":1620,"g":7.9},{"s":"bicarbonate","t":1650,"g":9.8},{"s":"bicarbonate","t":1680,"g":12.1},{"s":"bicarbonate","t":1710,"g":10.6},{"s":"bicarbonate","t":1740,"g":9.8},{"s":"bicarbonate","t":1770,"g":10.3},
{"s":"NaCl","t":30,"g":10.8},{"s":"NaCl","t":60,"g":10.1},{"s":"NaCl","t":90,"g":8.8},{"s":"NaCl","t":120,"g":8.5},{"s":"NaCl","t":150,"g":10.6},{"s":"NaCl","t":180,"g":11.6},{"s":"NaCl","t":210,"g":11},{"s":"NaCl","t":240,"g":12.5},{"s":"NaCl","t":270,"g":11.6},{"s":"NaCl","t":300,"g":11},{"s":"NaCl","t":330,"g":10.6},{"s":"NaCl","t":360,"g":9.2},{"s":"NaCl","t":390,"g":10.8},{"s":"NaCl","t":420,"g":10.8},{"s":"NaCl","t":450,"g":10.8},{"s":"NaCl","t":480,"g":13.9},{"s":"NaCl","t":510,"g":10.6},{"s":"NaCl","t":540,"g":8.0},{"s":"NaCl","t":570,"g":10.6},{"s":"NaCl","t":600,"g":10.1},{"s":"NaCl","t":630,"g":11},{"s":"NaCl","t":660,"g":11.2},{"s":"NaCl","t":690,"g":12.8},{"s":"NaCl","t":720,"g":13.9},{"s":"NaCl","t":750,"g":13.9},{"s":"NaCl","t":780,"g":17},{"s":"NaCl","t":810,"g":20.5},{"s":"NaCl","t":840,"g":22.6},{"s":"NaCl","t":870,"g":32},{"s":"NaCl","t":900,"g":44},{"s":"NaCl","t":930,"g":46},{"s":"NaCl","t":960,"g":37},{"s":"NaCl","t":990,"g":49},{"s":"NaCl","t":1020,"g":52},{"s":"NaCl","t":1050,"g":75},{"s":"NaCl","t":1080,"g":99},{"s":"NaCl","t":1110,"g":99},{"s":"NaCl","t":1140,"g":152},{"s":"NaCl","t":1170,"g":228},{"s":"NaCl","t":1200,"g":228},{"s":"NaCl","t":1230,"g":290},{"s":"NaCl","t":1260,"g":310},{"s":"NaCl","t":1290,"g":460},{"s":"NaCl","t":1320,"g":428},{"s":"NaCl","t":1350,"g":590},{"s":"NaCl","t":1380,"g":760},{"s":"NaCl","t":1410,"g":920},{"s":"NaCl","t":1440,"g":730},{"s":"NaCl","t":1470,"g":1030},{"s":"NaCl","t":1500,"g":1150},{"s":"NaCl","t":1530,"g":1550},{"s":"NaCl","t":1560,"g":1500},{"s":"NaCl","t":1590,"g":1850},{"s":"NaCl","t":1620,"g":1850},{"s":"NaCl","t":1650,"g":1670},{"s":"NaCl","t":1680,"g":1880},{"s":"NaCl","t":1710,"g":2100},{"s":"NaCl","t":1740,"g":2570},{"s":"NaCl","t":1770,"g":2820}
],
"d":[
{"s":"untreated","t":30,"g":15},{"s":"untreated","t":60,"g":16.6},{"s":"untreated","t":90,"g":22},{"s":"untreated","t":120,"g":28.5},{"s":"untreated","t":150,"g":39},{"s":"untreated","t":180,"g":55},{"s":"untreated","t":210,"g":83},{"s":"untreated","t":240,"g":98},{"s":"untreated","t":270,"g":131},{"s":"untreated","t":300,"g":120},{"s":"untreated","t":330,"g":129},{"s":"untreated","t":360,"g":138},{"s":"untreated","t":390,"g":261},{"s":"untreated","t":420,"g":316},{"s":"untreated","t":450,"g":415},{"s":"untreated","t":480,"g":665},{"s":"untreated","t":510,"g":1000},{"s":"untreated","t":540,"g":1820},{"s":"untreated","t":570,"g":1510},{"s":"untreated","t":600,"g":3500},{"s":"untreated","t":630,"g":4250},{"s":"untreated","t":660,"g":7650},{"s":"untreated","t":690,"g":9800},{"s":"untreated","t":720,"g":11300},{"s":"untreated","t":750,"g":13200},{"s":"untreated","t":780,"g":15200},{"s":"untreated","t":810,"g":11300},{"s":"untreated","t":840,"g":18200},{"s":"untreated","t":870,"g":25500},{"s":"untreated","t":900,"g":20000},{"s":"untreated","t":930,"g":24300},{"s":"untreated","t":960,"g":31000},{"s":"untreated","t":990,"g":34500},{"s":"untreated","t":1020,"g":40500},{"s":"untreated","t":1050,"g":45500},{"s":"untreated","t":1080,"g":42000},{"s":"untreated","t":1110,"g":34000},{"s":"untreated","t":1140,"g":43700},{"s":"untreated","t":1170,"g":60000},{"s":"untreated","t":1200,"g":62000},{"s":"untreated","t":1230,"g":65000},{"s":"untreated","t":1260,"g":68000},{"s":"untreated","t":1290,"g":74000},{"s":"untreated","t":1320,"g":56500},{"s":"untreated","t":1350,"g":68000},{"s":"untreated","t":1380,"g":64500},{"s":"untreated","t":1410,"g":76000},{"s":"untreated","t":1440,"g":87000},{"s":"untreated","t":1470,"g":87000},{"s":"untreated","t":1500,"g":97000},{"s":"untreated","t":1530,"g":112000},{"s":"untreated","t":1560,"g":117000},{"s":"untreated","t":1590,"g":103000},{"s":"untreated","t":1620,"g":125000},{"s":"untreated","t":1650,"g":131000},{"s":"untreated","t":1680,"g":148000},{"s":"untreated","t":1710,"g":156000},{"s":"untreated","t":1740,"g":135000},{"s":"untreated","t":1770,"g":151000},{"s":"untreated","t":1800,"g":135000},
{"s":"water","t":30,"g":14},{"s":"water","t":60,"g":11.6},{"s":"water","t":90,"g":14},{"s":"water","t":120,"g":10.7},{"s":"water","t":150,"g":13},{"s":"water","t":180,"g":17.4},{"s":"water","t":210,"g":12},{"s":"water","t":240,"g":11.6},{"s":"water","t":270,"g":11.8},{"s":"water","t":300,"g":13.5},{"s":"water","t":330,"g":11.2},{"s":"water","t":360,"g":11.8},{"s":"water","t":390,"g":11.2},{"s":"water","t":420,"g":11.4},{"s":"water","t":450,"g":11.2},{"s":"water","t":480,"g":11.2},{"s":"water","t":510,"g":9.5},{"s":"water","t":540,"g":14.8},{"s":"water","t":570,"g":10},{"s":"water","t":600,"g":13},{"s":"water","t":630,"g":12.6},{"s":"water","t":660,"g":12.6},{"s":"water","t":690,"g":10.9},{"s":"water","t":720,"g":12.6},{"s":"water","t":750,"g":11.6},{"s":"water","t":780,"g":11.6},{"s":"water","t":810,"g":9.7},{"s":"water","t":840,"g":11.6},{"s":"water","t":870,"g":11.8},{"s":"water","t":900,"g":12.6},{"s":"water","t":930,"g":11.2},{"s":"water","t":960,"g":10.9},{"s":"water","t":990,"g":13},{"s":"water","t":1020,"g":12},{"s":"water","t":1050,"g":12.6},{"s":"water","t":1080,"g":12.6},{"s":"water","t":1110,"g":13.2},{"s":"water","t":1140,"g":13},{"s":"water","t":1170,"g":12},{"s":"water","t":1200,"g":15.2},{"s":"water","t":1230,"g":14},{"s":"water","t":1260,"g":15.6},{"s":"water","t":1290,"g":16.8},{"s":"water","t":1320,"g":18.8},{"s":"water","t":1350,"g":18.5},{"s":"water","t":1380,"g":20},{"s":"water","t":1410,"g":24},{"s":"water","t":1440,"g":27},{"s":"water","t":1470,"g":29},{"s":"water","t":1500,"g":29},{"s":"water","t":1530,"g":32},{"s":"water","t":1560,"g":44},{"s":"water","t":1590,"g":45},{"s":"water","t":1620,"g":68},{"s":"water","t":1650,"g":87},{"s":"water","t":1680,"g":76},{"s":"water","t":1710,"g":96},{"s":"water","t":1740,"g":135},{"s":"water","t":1770,"g":129},{"s":"water","t":1800,"g":178},
{"s":"bicarbonate","t":30,"g":5.2},{"s":"bicarbonate","t":60,"g":4.1},{"s":"bicarbonate","t":90,"g":4.0},{"s":"bicarbonate","t":120,"g":1.86},{"s":"bicarbonate","t":150,"g":3.8},{"s":"bicarbonate","t":180,"g":3.8},{"s":"bicarbonate","t":210,"g":3.4},{"s":"bicarbonate","t":240,"g":3.2},{"s":"bicarbonate","t":270,"g":4.9},{"s":"bicarbonate","t":300,"g":4.6},{"s":"bicarbonate","t":330,"g":3.4},{"s":"bicarbonate","t":360,"g":6.5},{"s":"bicarbonate","t":390,"g":2.95},{"s":"bicarbonate","t":420,"g":5.8},{"s":"bicarbonate","t":450,"g":1.66},{"s":"bicarbonate","t":480,"g":2.2},{"s":"bicarbonate","t":510,"g":2.5},{"s":"bicarbonate","t":540,"g":3.0},{"s":"bicarbonate","t":570,"g":2.7},{"s":"bicarbonate","t":600,"g":3.4},{"s":"bicarbonate","t":630,"g":5.2},{"s":"bicarbonate","t":660,"g":3.0},{"s":"bicarbonate","t":690,"g":3.55},{"s":"bicarbonate","t":720,"g":2.6},{"s":"bicarbonate","t":750,"g":4.9},{"s":"bicarbonate","t":780,"g":3.55},{"s":"bicarbonate","t":810,"g":3.2},{"s":"bicarbonate","t":840,"g":0.22},{"s":"bicarbonate","t":870,"g":2.2},{"s":"bicarbonate","t":900,"g":2.05},{"s":"bicarbonate","t":930,"g":2.6},{"s":"bicarbonate","t":960,"g":3.2},{"s":"bicarbonate","t":990,"g":2.9},{"s":"bicarbonate","t":1020,"g":0.88},{"s":"bicarbonate","t":1050,"g":4.0},{"s":"bicarbonate","t":1080,"g":3.4},{"s":"bicarbonate","t":1110,"g":8.5},{"s":"bicarbonate","t":1140,"g":0.56},{"s":"bicarbonate","t":1170,"g":3.9},{"s":"bicarbonate","t":1200,"g":10},{"s":"bicarbonate","t":1230,"g":5.8},{"s":"bicarbonate","t":1260,"g":2.2},{"s":"bicarbonate","t":1290,"g":7.1},{"s":"bicarbonate","t":1320,"g":9.0},{"s":"bicarbonate","t":1350,"g":10.7},{"s":"bicarbonate","t":1410,"g":10},{"s":"bicarbonate","t":1440,"g":3.8},{"s":"bicarbonate","t":1470,"g":0.86},{"s":"bicarbonate","t":1500,"g":5.8},{"s":"bicarbonate","t":1530,"g":7.3},{"s":"bicarbonate","t":1590,"g":3.4},{"s":"bicarbonate","t":1650,"g":3.0},{"s":"bicarbonate","t":1680,"g":10.4},{"s":"bicarbonate","t":1740,"g":8.1},{"s":"bicarbonate","t":1770,"g":27},{"s":"bicarbonate","t":1800,"g":26},
{"s":"NaCl","t":390,"g":5.6},{"s":"NaCl","t":420,"g":4.2},{"s":"NaCl","t":450,"g":4.0},{"s":"NaCl","t":480,"g":5.2},{"s":"NaCl","t":510,"g":4.4},{"s":"NaCl","t":540,"g":4.2},{"s":"NaCl","t":570,"g":5.3},{"s":"NaCl","t":600,"g":4.3},{"s":"NaCl","t":630,"g":7.5},{"s":"NaCl","t":660,"g":4.2},{"s":"NaCl","t":690,"g":5.8},{"s":"NaCl","t":720,"g":4.5},{"s":"NaCl","t":750,"g":7.3},{"s":"NaCl","t":780,"g":4.0},{"s":"NaCl","t":810,"g":1.66},{"s":"NaCl","t":840,"g":5.8},{"s":"NaCl","t":870,"g":4.4},{"s":"NaCl","t":900,"g":1.27},{"s":"NaCl","t":930,"g":3.5},{"s":"NaCl","t":960,"g":2.1},{"s":"NaCl","t":990,"g":3.8},{"s":"NaCl","t":1020,"g":4.7},{"s":"NaCl","t":1050,"g":3.8},{"s":"NaCl","t":1080,"g":3.6},{"s":"NaCl","t":1110,"g":3.5},{"s":"NaCl","t":1140,"g":7.4},{"s":"NaCl","t":1170,"g":3.0},{"s":"NaCl","t":1200,"g":4.0},{"s":"NaCl","t":1230,"g":0.69},{"s":"NaCl","t":1260,"g":2.6},{"s":"NaCl","t":1290,"g":2.35},{"s":"NaCl","t":1320,"g":4.9},{"s":"NaCl","t":1350,"g":2.4},{"s":"NaCl","t":1380,"g":6.3},{"s":"NaCl","t":1410,"g":8.1},{"s":"NaCl","t":1440,"g":8.5},{"s":"NaCl","t":1470,"g":11.2},{"s":"NaCl","t":1500,"g":17},{"s":"NaCl","t":1530,"g":23.5},{"s":"NaCl","t":1560,"g":30},{"s":"NaCl","t":1590,"g":40},{"s":"NaCl","t":1620,"g":60},{"s":"NaCl","t":1650,"g":70},{"s":"NaCl","t":1680,"g":105},{"s":"NaCl","t":1710,"g":40},{"s":"NaCl","t":1740,"g":58},{"s":"NaCl","t":1770,"g":70},{"s":"NaCl","t":1800,"g":102}
],
"e":[
{"s":"untreated","t":30,"g":82},{"s":"untreated","t":60,"g":166},{"s":"untreated","t":90,"g":390},{"s":"untreated","t":120,"g":607},{"s":"untreated","t":150,"g":825},{"s":"untreated","t":180,"g":1120},{"s":"untreated","t":210,"g":1310},{"s":"untreated","t":240,"g":1790},{"s":"untreated","t":270,"g":1670},{"s":"untreated","t":300,"g":2300},{"s":"untreated","t":330,"g":2410},{"s":"untreated","t":360,"g":2690},{"s":"untreated","t":390,"g":2800},{"s":"untreated","t":420,"g":3300},{"s":"untreated","t":450,"g":3300},{"s":"untreated","t":480,"g":4170},{"s":"untreated","t":510,"g":4280},{"s":"untreated","t":540,"g":4580},{"s":"untreated","t":570,"g":5030},{"s":"untreated","t":600,"g":4950},{"s":"untreated","t":630,"g":5550},{"s":"untreated","t":660,"g":6050},{"s":"untreated","t":690,"g":6900},{"s":"untreated","t":720,"g":7000},{"s":"untreated","t":750,"g":7150},{"s":"untreated","t":780,"g":7560},{"s":"untreated","t":810,"g":8850},{"s":"untreated","t":840,"g":8250},{"s":"untreated","t":870,"g":9750},{"s":"untreated","t":900,"g":10400},{"s":"untreated","t":930,"g":9500},{"s":"untreated","t":960,"g":11000},{"s":"untreated","t":990,"g":11300},{"s":"untreated","t":1020,"g":11800},{"s":"untreated","t":1050,"g":12000},{"s":"untreated","t":1080,"g":12600},{"s":"untreated","t":1110,"g":13800},{"s":"untreated","t":1140,"g":15200},{"s":"untreated","t":1170,"g":15600},{"s":"untreated","t":1200,"g":14400},{"s":"untreated","t":1230,"g":15200},{"s":"untreated","t":1260,"g":15600},{"s":"untreated","t":1290,"g":16700},{"s":"untreated","t":1320,"g":15600},{"s":"untreated","t":1350,"g":17200},{"s":"untreated","t":1380,"g":19400},{"s":"untreated","t":1410,"g":21700},{"s":"untreated","t":1440,"g":21700},{"s":"untreated","t":1470,"g":20800},{"s":"untreated","t":1500,"g":21200},{"s":"untreated","t":1530,"g":21700},{"s":"untreated","t":1560,"g":21900},{"s":"untreated","t":1590,"g":22800},{"s":"untreated","t":1620,"g":23900},{"s":"untreated","t":1650,"g":25000},{"s":"untreated","t":1680,"g":26800},{"s":"untreated","t":1710,"g":28000},{"s":"untreated","t":1740,"g":28800},{"s":"untreated","t":1770,"g":30300},{"s":"untreated","t":1800,"g":26800},
{"s":"water","t":30,"g":20.8},{"s":"water","t":60,"g":22.8},{"s":"water","t":90,"g":28},{"s":"water","t":120,"g":61},{"s":"water","t":150,"g":128},{"s":"water","t":180,"g":290},{"s":"water","t":210,"g":565},{"s":"water","t":240,"g":1070},{"s":"water","t":270,"g":1340},{"s":"water","t":300,"g":1960},{"s":"water","t":330,"g":2690},{"s":"water","t":360,"g":4690},{"s":"water","t":390,"g":5800},{"s":"water","t":420,"g":7560},{"s":"water","t":450,"g":9750},{"s":"water","t":480,"g":12300},{"s":"water","t":510,"g":14200},{"s":"water","t":540,"g":19400},{"s":"water","t":570,"g":25000},{"s":"water","t":600,"g":30900},{"s":"water","t":630,"g":34700},{"s":"water","t":660,"g":33000},{"s":"water","t":690,"g":43800},{"s":"water","t":720,"g":41400},{"s":"water","t":750,"g":48000},{"s":"water","t":780,"g":49500},{"s":"water","t":810,"g":67000},{"s":"water","t":840,"g":77000},{"s":"water","t":870,"g":85000},{"s":"water","t":900,"g":96000},{"s":"water","t":930,"g":105000},{"s":"water","t":960,"g":117000},{"s":"water","t":990,"g":121000},{"s":"water","t":1020,"g":124000},{"s":"water","t":1050,"g":136000},{"s":"water","t":1080,"g":144000},{"s":"water","t":1110,"g":144000},{"s":"water","t":1140,"g":124000},{"s":"water","t":1170,"g":158000},{"s":"water","t":1200,"g":155000},{"s":"water","t":1230,"g":132000},{"s":"water","t":1260,"g":177000},{"s":"water","t":1290,"g":195000},{"s":"water","t":1320,"g":200000},{"s":"water","t":1350,"g":205000},{"s":"water","t":1380,"g":200000},{"s":"water","t":1410,"g":205000},{"s":"water","t":1440,"g":205000},{"s":"water","t":1470,"g":209000},{"s":"water","t":1500,"g":190000},{"s":"water","t":1530,"g":177000},{"s":"water","t":1560,"g":186000},{"s":"water","t":1590,"g":209000},{"s":"water","t":1620,"g":218000},{"s":"water","t":1650,"g":218000},{"s":"water","t":1680,"g":213000},{"s":"water","t":1710,"g":209000},{"s":"water","t":1740,"g":218000},{"s":"water","t":1770,"g":245000},{"s":"water","t":1800,"g":245000},
{"s":"bicarbonate","t":30,"g":1170},{"s":"bicarbonate","t":60,"g":1180},{"s":"bicarbonate","t":90,"g":1230},{"s":"bicarbonate","t":120,"g":1290},{"s":"bicarbonate","t":150,"g":1340},{"s":"bicarbonate","t":180,"g":1450},{"s":"bicarbonate","t":210,"g":1620},{"s":"bicarbonate","t":240,"g":1910},{"s":"bicarbonate","t":270,"g":2300},{"s":"bicarbonate","t":300,"g":2950},{"s":"bicarbonate","t":330,"g":3390},{"s":"bicarbonate","t":360,"g":4370},{"s":"bicarbonate","t":390,"g":5250},{"s":"bicarbonate","t":420,"g":5900},{"s":"bicarbonate","t":450,"g":7000},{"s":"bicarbonate","t":480,"g":8500},{"s":"bicarbonate","t":510,"g":9750},{"s":"bicarbonate","t":540,"g":12900},{"s":"bicarbonate","t":570,"g":15600},{"s":"bicarbonate","t":600,"g":17200},{"s":"bicarbonate","t":630,"g":20000},{"s":"bicarbonate","t":660,"g":21300},{"s":"bicarbonate","t":690,"g":23400},{"s":"bicarbonate","t":720,"g":27500},{"s":"bicarbonate","t":750,"g":28800},{"s":"bicarbonate","t":780,"g":35500},{"s":"bicarbonate","t":810,"g":37500},{"s":"bicarbonate","t":840,"g":41400},{"s":"bicarbonate","t":870,"g":45500},{"s":"bicarbonate","t":900,"g":48000},{"s":"bicarbonate","t":930,"g":51500},{"s":"bicarbonate","t":960,"g":58500},{"s":"bicarbonate","t":990,"g":61000},{"s":"bicarbonate","t":1020,"g":64000},{"s":"bicarbonate","t":1050,"g":68500},{"s":"bicarbonate","t":1080,"g":68500},{"s":"bicarbonate","t":1110,"g":77000},{"s":"bicarbonate","t":1140,"g":81000},{"s":"bicarbonate","t":1170,"g":81000},{"s":"bicarbonate","t":1200,"g":77000},{"s":"bicarbonate","t":1230,"g":82000},{"s":"bicarbonate","t":1260,"g":91000},{"s":"bicarbonate","t":1290,"g":98000},{"s":"bicarbonate","t":1320,"g":103000},{"s":"bicarbonate","t":1350,"g":98000},{"s":"bicarbonate","t":1380,"g":96000},{"s":"bicarbonate","t":1410,"g":85000},{"s":"bicarbonate","t":1440,"g":98000},{"s":"bicarbonate","t":1470,"g":105000},{"s":"bicarbonate","t":1500,"g":100000},{"s":"bicarbonate","t":1530,"g":98000},{"s":"bicarbonate","t":1560,"g":117000},{"s":"bicarbonate","t":1590,"g":121000},{"s":"bicarbonate","t":1620,"g":128000},{"s":"bicarbonate","t":1650,"g":124000},{"s":"bicarbonate","t":1680,"g":119000},{"s":"bicarbonate","t":1710,"g":121000},{"s":"bicarbonate","t":1740,"g":124000},{"s":"bicarbonate","t":1770,"g":132000},{"s":"bicarbonate","t":1800,"g":128000},
{"s":"NaCl","t":30,"g":4.5},{"s":"NaCl","t":60,"g":7.6},{"s":"NaCl","t":90,"g":15.4},{"s":"NaCl","t":120,"g":50},{"s":"NaCl","t":150,"g":134},{"s":"NaCl","t":180,"g":314},{"s":"NaCl","t":210,"g":500},{"s":"NaCl","t":240,"g":575},{"s":"NaCl","t":270,"g":955},{"s":"NaCl","t":300,"g":1340},{"s":"NaCl","t":330,"g":1870},{"s":"NaCl","t":360,"g":2500},{"s":"NaCl","t":390,"g":3080},{"s":"NaCl","t":420,"g":4170},{"s":"NaCl","t":450,"g":4900},{"s":"NaCl","t":480,"g":5800},{"s":"NaCl","t":510,"g":5700},{"s":"NaCl","t":540,"g":6400},{"s":"NaCl","t":570,"g":7000},{"s":"NaCl","t":600,"g":8700},{"s":"NaCl","t":630,"g":10400},{"s":"NaCl","t":660,"g":11300},{"s":"NaCl","t":690,"g":12400},{"s":"NaCl","t":720,"g":14200},{"s":"NaCl","t":750,"g":16300},{"s":"NaCl","t":780,"g":16600},{"s":"NaCl","t":810,"g":17600},{"s":"NaCl","t":840,"g":19000},{"s":"NaCl","t":870,"g":19000},{"s":"NaCl","t":900,"g":24300},{"s":"NaCl","t":930,"g":22800},{"s":"NaCl","t":960,"g":22800},{"s":"NaCl","t":990,"g":25000},{"s":"NaCl","t":1020,"g":28200},{"s":"NaCl","t":1050,"g":34700},{"s":"NaCl","t":1080,"g":36500},{"s":"NaCl","t":1110,"g":38000},{"s":"NaCl","t":1140,"g":42000},{"s":"NaCl","t":1170,"g":45500},{"s":"NaCl","t":1200,"g":43000},{"s":"NaCl","t":1230,"g":50000},{"s":"NaCl","t":1260,"g":53500},{"s":"NaCl","t":1290,"g":52000},{"s":"NaCl","t":1320,"g":48200},{"s":"NaCl","t":1350,"g":46000},{"s":"NaCl","t":1380,"g":48200},{"s":"NaCl","t":1410,"g":47000},{"s":"NaCl","t":1440,"g":53500},{"s":"NaCl","t":1470,"g":64000},{"s":"NaCl","t":1500,"g":66000},{"s":"NaCl","t":1530,"g":60500},{"s":"NaCl","t":1560,"g":61500},{"s":"NaCl","t":1590,"g":64000},{"s":"NaCl","t":1620,"g":67000},{"s":"NaCl","t":1650,"g":72800},{"s":"NaCl","t":1680,"g":72800},{"s":"NaCl","t":1710,"g":77500},{"s":"NaCl","t":1740,"g":83000},{"s":"NaCl","t":1770,"g":83000},{"s":"NaCl","t":1800,"g":81000}
],
"f":[
{"s":"untreated","t":30,"g":54},{"s":"untreated","t":60,"g":62},{"s":"untreated","t":90,"g":123},{"s":"untreated","t":120,"g":370},{"s":"untreated","t":150,"g":445},{"s":"untreated","t":180,"g":910},{"s":"untreated","t":210,"g":1170},{"s":"untreated","t":240,"g":1510},{"s":"untreated","t":270,"g":2180},{"s":"untreated","t":300,"g":3250},{"s":"untreated","t":330,"g":4440},{"s":"untreated","t":360,"g":5580},{"s":"untreated","t":390,"g":6070},{"s":"untreated","t":420,"g":6650},{"s":"untreated","t":450,"g":7300},{"s":"untreated","t":480,"g":8920},{"s":"untreated","t":510,"g":10500},{"s":"untreated","t":540,"g":12500},{"s":"untreated","t":570,"g":13300},{"s":"untreated","t":600,"g":13700},{"s":"untreated","t":630,"g":16000},{"s":"untreated","t":660,"g":18300},{"s":"untreated","t":690,"g":21000},{"s":"untreated","t":720,"g":23000},{"s":"untreated","t":750,"g":22300},{"s":"untreated","t":780,"g":22300},{"s":"untreated","t":810,"g":26500},{"s":"untreated","t":840,"g":31800},{"s":"untreated","t":870,"g":29000},{"s":"untreated","t":900,"g":29000},{"s":"untreated","t":930,"g":30300},{"s":"untreated","t":960,"g":31000},{"s":"untreated","t":990,"g":38800},{"s":"untreated","t":1020,"g":45600},{"s":"untreated","t":1050,"g":50000},{"s":"untreated","t":1080,"g":52500},{"s":"untreated","t":1110,"g":51000},{"s":"untreated","t":1140,"g":45600},{"s":"untreated","t":1170,"g":63000},{"s":"untreated","t":1200,"g":76000},{"s":"untreated","t":1230,"g":66000},{"s":"untreated","t":1260,"g":79000},{"s":"untreated","t":1290,"g":87000},{"s":"untreated","t":1320,"g":74000},{"s":"untreated","t":1350,"g":85000},{"s":"untreated","t":1380,"g":89000},{"s":"untreated","t":1410,"g":95000},{"s":"untreated","t":1440,"g":97000},{"s":"untreated","t":1470,"g":103000},{"s":"untreated","t":1500,"g":120000},{"s":"untreated","t":1530,"g":105000},{"s":"untreated","t":1560,"g":103000},{"s":"untreated","t":1590,"g":110000},{"s":"untreated","t":1620,"g":132000},{"s":"untreated","t":1650,"g":158000},{"s":"untreated","t":1680,"g":166000},{"s":"untreated","t":1710,"g":174000},{"s":"untreated","t":1740,"g":174000},{"s":"untreated","t":1770,"g":174000},{"s":"untreated","t":1800,"g":186000},
{"s":"water","t":30,"g":49},{"s":"water","t":60,"g":41},{"s":"water","t":90,"g":44},{"s":"water","t":120,"g":58},{"s":"water","t":150,"g":120},{"s":"water","t":180,"g":178},{"s":"water","t":210,"g":282},{"s":"water","t":240,"g":406},{"s":"water","t":270,"g":562},{"s":"water","t":300,"g":850},{"s":"water","t":330,"g":1230},{"s":"water","t":360,"g":1230},{"s":"water","t":390,"g":1540},{"s":"water","t":420,"g":1810},{"s":"water","t":450,"g":2330},{"s":"water","t":480,"g":2680},{"s":"water","t":510,"g":4150},{"s":"water","t":540,"g":5580},{"s":"water","t":570,"g":6200},{"s":"water","t":600,"g":6950},{"s":"water","t":630,"g":7650},{"s":"water","t":660,"g":8920},{"s":"water","t":690,"g":11400},{"s":"water","t":720,"g":12700},{"s":"water","t":750,"g":13900},{"s":"water","t":780,"g":15000},{"s":"water","t":810,"g":15000},{"s":"water","t":840,"g":15600},{"s":"water","t":870,"g":16400},{"s":"water","t":900,"g":17500},{"s":"water","t":930,"g":21000},{"s":"water","t":960,"g":22300},{"s":"water","t":990,"g":22300},{"s":"water","t":1020,"g":25200},{"s":"water","t":1050,"g":27700},{"s":"water","t":1080,"g":29000},{"s":"water","t":1110,"g":31000},{"s":"water","t":1140,"g":33000},{"s":"water","t":1170,"g":32000},{"s":"water","t":1200,"g":33000},{"s":"water","t":1230,"g":35200},{"s":"water","t":1260,"g":36500},{"s":"water","t":1290,"g":38800},{"s":"water","t":1320,"g":38800},{"s":"water","t":1350,"g":40000},{"s":"water","t":1380,"g":43800},{"s":"water","t":1410,"g":43800},{"s":"water","t":1440,"g":41700},{"s":"water","t":1470,"g":45000},{"s":"water","t":1500,"g":48000},{"s":"water","t":1530,"g":49500},{"s":"water","t":1560,"g":52500},{"s":"water","t":1590,"g":56000},{"s":"water","t":1620,"g":52500},{"s":"water","t":1650,"g":53500},{"s":"water","t":1680,"g":56000},{"s":"water","t":1710,"g":60300},{"s":"water","t":1740,"g":63000},{"s":"water","t":1770,"g":61500},{"s":"water","t":1800,"g":57800},
{"s":"bicarbonate","t":30,"g":23},{"s":"bicarbonate","t":60,"g":26},{"s":"bicarbonate","t":90,"g":78},{"s":"bicarbonate","t":120,"g":182},{"s":"bicarbonate","t":150,"g":241},{"s":"bicarbonate","t":180,"g":406},{"s":"bicarbonate","t":210,"g":645},{"s":"bicarbonate","t":240,"g":930},{"s":"bicarbonate","t":270,"g":1170},{"s":"bicarbonate","t":300,"g":1430},{"s":"bicarbonate","t":330,"g":1730},{"s":"bicarbonate","t":360,"g":2040},{"s":"bicarbonate","t":390,"g":2250},{"s":"bicarbonate","t":420,"g":2680},{"s":"bicarbonate","t":450,"g":3460},{"s":"bicarbonate","t":480,"g":2930},{"s":"bicarbonate","t":510,"g":4030},{"s":"bicarbonate","t":540,"g":4540},{"s":"bicarbonate","t":570,"g":4870},{"s":"bicarbonate","t":600,"g":5340},{"s":"bicarbonate","t":630,"g":5800},{"s":"bicarbonate","t":660,"g":6650},{"s":"bicarbonate","t":690,"g":7900},{"s":"bicarbonate","t":720,"g":9800},{"s":"bicarbonate","t":750,"g":10000},{"s":"bicarbonate","t":780,"g":10000},{"s":"bicarbonate","t":810,"g":10300},{"s":"bicarbonate","t":840,"g":10300},{"s":"bicarbonate","t":870,"g":10700},{"s":"bicarbonate","t":900,"g":11000},{"s":"bicarbonate","t":930,"g":12700},{"s":"bicarbonate","t":960,"g":13300},{"s":"bicarbonate","t":990,"g":13900},{"s":"bicarbonate","t":1020,"g":16000},{"s":"bicarbonate","t":1050,"g":16000},{"s":"bicarbonate","t":1080,"g":17500},{"s":"bicarbonate","t":1110,"g":18300},{"s":"bicarbonate","t":1140,"g":17500},{"s":"bicarbonate","t":1170,"g":21000},{"s":"bicarbonate","t":1200,"g":22000},{"s":"bicarbonate","t":1230,"g":23000},{"s":"bicarbonate","t":1260,"g":24100},{"s":"bicarbonate","t":1290,"g":26500},{"s":"bicarbonate","t":1320,"g":27000},{"s":"bicarbonate","t":1350,"g":29000},{"s":"bicarbonate","t":1380,"g":30300},{"s":"bicarbonate","t":1410,"g":33000},{"s":"bicarbonate","t":1440,"g":34000},{"s":"bicarbonate","t":1470,"g":37500},{"s":"bicarbonate","t":1500,"g":40000},{"s":"bicarbonate","t":1530,"g":41700},{"s":"bicarbonate","t":1560,"g":42600},{"s":"bicarbonate","t":1590,"g":45000},{"s":"bicarbonate","t":1620,"g":46800},{"s":"bicarbonate","t":1650,"g":48000},{"s":"bicarbonate","t":1680,"g":49500},{"s":"bicarbonate","t":1710,"g":60000},{"s":"bicarbonate","t":1740,"g":60000},{"s":"bicarbonate","t":1770,"g":56000},{"s":"bicarbonate","t":1800,"g":56000},
{"s":"NaCl","t":30,"g":12.5},{"s":"NaCl","t":60,"g":43},{"s":"NaCl","t":90,"g":135},{"s":"NaCl","t":120,"g":310},{"s":"NaCl","t":150,"g":510},{"s":"NaCl","t":180,"g":775},{"s":"NaCl","t":210,"g":910},{"s":"NaCl","t":240,"g":1120},{"s":"NaCl","t":270,"g":1340},{"s":"NaCl","t":300,"g":1610},{"s":"NaCl","t":330,"g":1940},{"s":"NaCl","t":360,"g":2250},{"s":"NaCl","t":390,"g":2560},{"s":"NaCl","t":420,"g":2700},{"s":"NaCl","t":450,"g":2870},{"s":"NaCl","t":480,"g":3700},{"s":"NaCl","t":510,"g":4030},{"s":"NaCl","t":540,"g":4440},{"s":"NaCl","t":570,"g":4640},{"s":"NaCl","t":600,"g":4640},{"s":"NaCl","t":630,"g":5340},{"s":"NaCl","t":660,"g":5100},{"s":"NaCl","t":690,"g":5150},{"s":"NaCl","t":720,"g":6650},{"s":"NaCl","t":750,"g":6800},{"s":"NaCl","t":780,"g":7900},{"s":"NaCl","t":810,"g":8400},{"s":"NaCl","t":840,"g":8800},{"s":"NaCl","t":870,"g":9600},{"s":"NaCl","t":900,"g":10000},{"s":"NaCl","t":930,"g":10500},{"s":"NaCl","t":960,"g":10600},{"s":"NaCl","t":990,"g":11400},{"s":"NaCl","t":1020,"g":12100},{"s":"NaCl","t":1050,"g":12700},{"s":"NaCl","t":1080,"g":13300},{"s":"NaCl","t":1110,"g":14200},{"s":"NaCl","t":1140,"g":15000},{"s":"NaCl","t":1170,"g":16700},{"s":"NaCl","t":1200,"g":15200},{"s":"NaCl","t":1230,"g":14200},{"s":"NaCl","t":1260,"g":15600},{"s":"NaCl","t":1290,"g":16500},{"s":"NaCl","t":1320,"g":16500},{"s":"NaCl","t":1350,"g":16500},{"s":"NaCl","t":1380,"g":20000},{"s":"NaCl","t":1410,"g":19200},{"s":"NaCl","t":1440,"g":19500},{"s":"NaCl","t":1470,"g":21900},{"s":"NaCl","t":1500,"g":22300},{"s":"NaCl","t":1530,"g":21000},{"s":"NaCl","t":1560,"g":23600},{"s":"NaCl","t":1590,"g":23200},{"s":"NaCl","t":1620,"g":25100},{"s":"NaCl","t":1650,"g":27000},{"s":"NaCl","t":1680,"g":27000},{"s":"NaCl","t":1710,"g":27700},{"s":"NaCl","t":1740,"g":25100},{"s":"NaCl","t":1770,"g":29500},{"s":"NaCl","t":1800,"g":28600}
]
}
}
